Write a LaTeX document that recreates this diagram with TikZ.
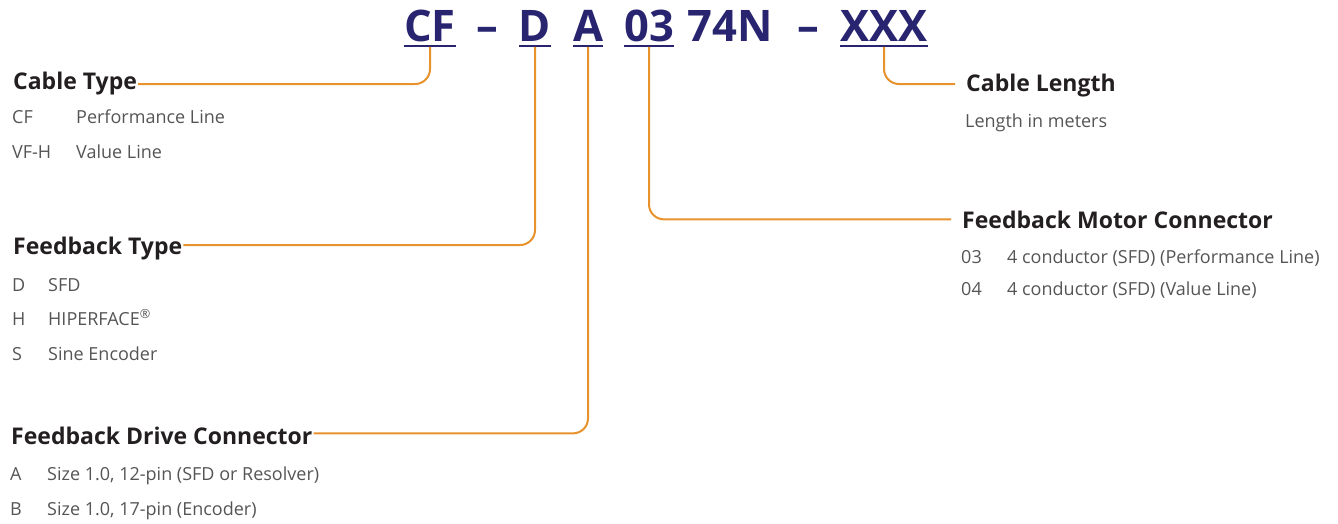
\documentclass[tikz,border=0pt]{standalone}
\usepackage{fontspec}
\setmainfont{Open Sans}
\usepackage{tikz}
\usetikzlibrary{positioning}
\definecolor{CodeNavy}{RGB}{40,36,112}
\definecolor{LeadOrange}{RGB}{232,146,44}
\definecolor{HeadDark}{RGB}{35,31,32}
\definecolor{BodyGrey}{RGB}{85,85,85}

\begin{document}
\begin{tikzpicture}[
    x=1pt, y=-1pt,
    code/.style={font=\fontsize{43.5}{44}\selectfont\bfseries, text=CodeNavy,
                 inner sep=0pt, anchor=base},
    uline/.style={draw=CodeNavy, line width=2.2pt},
    head/.style={font=\fontsize{23}{23}\selectfont\bfseries, text=HeadDark,
                 inner sep=1pt, anchor=base west},
    item/.style={font=\fontsize{18}{18}\selectfont, text=BodyGrey,
                 inner sep=0pt, anchor=base west},
    lead/.style={draw=LeadOrange, line width=2pt, rounded corners=15pt}
  ]
    \useasboundingbox (0,0) rectangle (1338,524);

    % part number
    \node[code] (cf)    at (430,42) {CF};
    \node[code] (dash1) at (487,42) {–};
    \node[code] (fb)    at (535,42) {D};
    \node[code] (drv)   at (588,42) {A};
    \node[code] (mot)   at (649,42) {03};
    \node[code] (mid)   at (730,42) {74N};
    \node[code] (dash2) at (808,42) {–};
    \node[code] (len)   at (884,42) {XXX};
    \foreach \n in {cf,fb,drv,mot,len}
      \draw[uline] ([yshift=-4pt]\n.base west) -- ([yshift=-4pt]\n.base east);

    % headings
    \node[head] (ctype) at (12,90)   {Cable Type};
    \node[head] (ftype) at (12,254)  {Feedback Type};
    \node[head] (dconn) at (10,444)  {Feedback Drive Connector};
    \node[head] (mconn) at (961,228) {Feedback Motor Connector};
    \node[head] (clen)  at (965,92)  {Cable Length};

    % options
    \node[item] (ct1) at (12,124) {CF};
    \node[item] at (76,124) {Performance Line};
    \node[item] (ct2) at (12,158) {VF-H};
    \node[item] at (76,158) {Value Line};

    \node[item] (ft1) at (12,291) {D};
    \node[item] at (48,291) {SFD};
    \node[item] (ft2) at (12,325) {H};
    \node[item] at (48,325) {HIPERFACE\textsuperscript{®}};
    \node[item] (ft3) at (12,360) {S};
    \node[item] at (48,360) {Sine Encoder};

    \node[item] (dc1) at (10,480) {A};
    \node[item] at (47,480) {Size 1.0, 12-pin (SFD or Resolver)};
    \node[item] (dc2) at (10,515) {B};
    \node[item] at (47,515) {Size 1.0, 17-pin (Encoder)};

    \node[item] (cl1) at (965,128) {Length in meters};

    \node[item] (mc1) at (961,263) {03};
    \node[item] at (1007,263) {4 conductor (SFD) (Performance Line)};
    \node[item] (mc2) at (961,295) {04};
    \node[item] at (1007,295) {4 conductor (SFD) (Value Line)};

    % leader lines
    \draw[lead] ([yshift=-5pt]cf.base)  |- (ctype.east);
    \draw[lead] ([yshift=-5pt]fb.base)  |- ([yshift=3pt]ftype.east);
    \draw[lead] ([yshift=-5pt]drv.base) |- ([yshift=2pt]dconn.east);
    \draw[lead] ([yshift=-5pt]mot.base) |- ([xshift=-10pt]mconn.west);
    \draw[lead] ([yshift=-5pt]len.base) |- ([xshift=-10pt,yshift=2pt]clen.west);
  \end{tikzpicture}
\end{document}
